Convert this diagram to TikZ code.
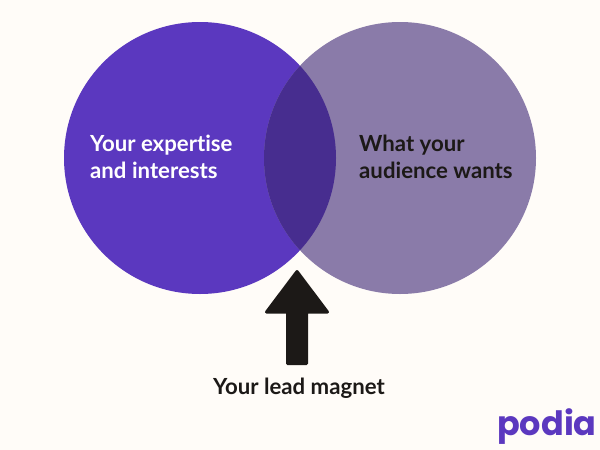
\documentclass[tikz,border=0pt]{standalone}
\usepackage{fontspec}
\setmainfont{Lato}[RawFeature={-liga}]
\newfontfamily\logofont{Poppins}[BoldFont=* Bold]
\definecolor{bgcream}{HTML}{FFFCF8}
\definecolor{purpleA}{HTML}{5B38BF}
\definecolor{purpleB}{HTML}{8A7BA9}
\definecolor{purpleC}{HTML}{472D8F}
\definecolor{inkdark}{HTML}{1C1917}
\tikzset{
  lab/.style={font=\fontsize{22.2pt}{26.5pt}\selectfont\bfseries, align=left, inner sep=0pt, anchor=west},
}
\begin{document}
\begin{tikzpicture}[x=1pt,y=-1pt]
\useasboundingbox (0,0) rectangle (600,450);
\fill[bgcream] (0,0) rectangle (600,450);
\fill[purpleA] (200,158) circle[radius=136];
\fill[purpleB] (400,158) circle[radius=136];
\begin{scope}
  \clip (200,158) circle[radius=136];
  \fill[purpleC] (400,158) circle[radius=136];
\end{scope}
\fill[inkdark, draw=inkdark, line width=3pt, line join=round]
  (297,271.5) -- (327.5,312) -- (306.5,312) -- (306.5,363.5) -- (287.5,363.5) -- (287.5,312) -- (266.5,312) -- cycle;
\node[lab, text=white] (left) at (90,157) {Your expertise\\and interests};
\node[lab, text=inkdark] (right) at (359,157) {What your\\audience wants};
\node[lab, text=inkdark, anchor=center] (magnet) at (299,388) {Your lead magnet};
\node[text=purpleA, inner sep=0pt, anchor=base west, font=\logofont\fontsize{33.5pt}{33.5pt}\selectfont\bfseries] (logo) at (497,435) {podia};
\end{tikzpicture}
\end{document}
